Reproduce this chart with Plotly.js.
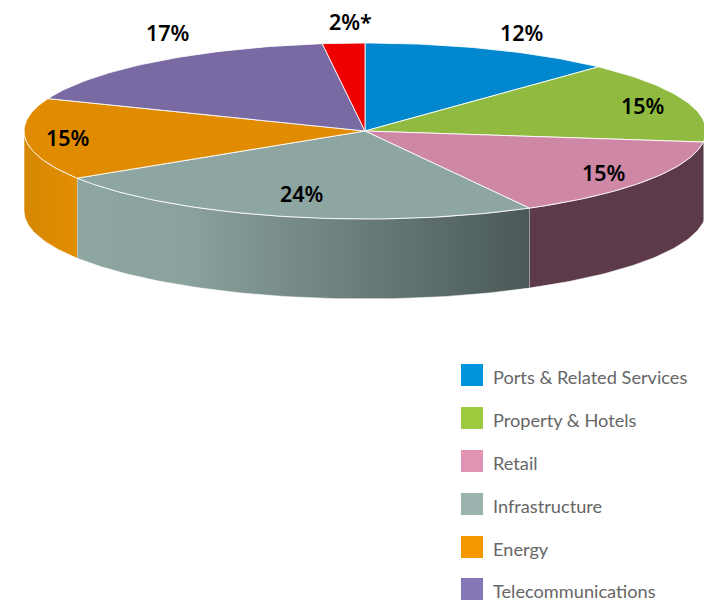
<!DOCTYPE html>
<html><head><meta charset="utf-8">
<script src="https://cdn.plot.ly/plotly-3.0.1.min.js"></script>
<style>html,body{margin:0;padding:0;background:#fff}#c{width:704px;height:601px}</style>
</head><body><div id="c"></div>
<script>
// Data, clockwise from 12 o'clock
const sliceNames = ['Ports & Related Services','Property & Hotels','Retail','Infrastructure','Energy','Telecommunications','Other'];
const sliceShares = [12,15,15,24,15,17,2];
const sliceLabels = ['12%','15%','15%','24%','15%','17%','2%*'];
const topColors = ['#0087cd','#91bb40','#cf87a6','#8ea6a1','#e08b00','#7a6aa4','#ee0000'];
const legendColors = ['#0094dc','#9ccb3f','#e093b2','#9cb2ae','#f59800','#8577b7'];
const legendNames = sliceNames.slice(0,6);

// Projection of the tilted disc
const CX=365, CY=131, RX=341, RY=88, DEPTH=80;
const pt=(deg,drop=0)=>{const a=deg*Math.PI/180;return [CX+RX*Math.sin(a),CY-RY*Math.cos(a)+drop];};
function arc(a0,a1,drop=0){const n=Math.max(2,Math.ceil(Math.abs(a1-a0)));const o=[];for(let i=0;i<=n;i++)o.push(pt(a0+(a1-a0)*i/n,drop));return o;}

const total=sliceShares.reduce((s,v)=>s+v,0);
let acc=0;
const ranges=sliceShares.map(v=>{const a=acc/total*360;acc+=v;return [a,acc/total*360];});

const sideStyles={
  1:{fillcolor:'#55603a'},
  2:{fillcolor:'#5c3a49'},
  3:{fillgradient:{type:'horizontal',start:76,stop:529,colorscale:[[0,'#8ea6a1'],[0.25,'#8aa19d'],[0.6,'#6c7f7c'],[1,'#4a5957']]}},
  4:{fillgradient:{type:'horizontal',start:24,stop:76,colorscale:[[0,'#d68803'],[1,'#e18d00']]}}
};
const traces=[];
ranges.forEach((r,i)=>{
  const a0=Math.max(r[0],90), a1=Math.min(r[1],270);
  if(a1<=a0) return;
  const pts=arc(a0,a1).concat(arc(a1,a0,DEPTH));
  traces.push(Object.assign({type:'scatter',mode:'lines',fill:'toself',x:pts.map(p=>p[0]),y:pts.map(p=>p[1]),
    line:{color:'rgba(255,255,255,0.6)',width:1},hoverinfo:'skip'},sideStyles[i]));
});
ranges.forEach((r,i)=>{
  const pts=[[CX,CY]].concat(arc(r[0],r[1]));pts.push([CX,CY]);
  traces.push({type:'scatter',mode:'lines',fill:'toself',x:pts.map(p=>p[0]),y:pts.map(p=>p[1]),
    fillcolor:topColors[i],line:{color:'rgba(255,255,255,0.85)',width:1},name:sliceNames[i],text:sliceLabels[i],hoverinfo:'name+text'});
});
// legend
const legendY=[375,418,461,504,547,589];
traces.push({type:'scatter',mode:'markers',x:legendNames.map(()=>472),y:legendY,
  marker:{symbol:'square',size:22,color:legendColors,line:{width:0}},hoverinfo:'skip'});

const labelXY=[[522,32.5],[643,105.5],[604,172.5],[302,193.5],[68,137.5],[168,32.5],[350.5,21.5]];
const annotations=sliceLabels.map((t,i)=>({x:labelXY[i][0],y:labelXY[i][1],xref:'x',yref:'y',text:t,showarrow:false,
  font:{family:'"Noto Sans",sans-serif',size:21.5,color:'#000',weight:600},xanchor:'center',yanchor:'middle'}));
legendNames.forEach((t,i)=>annotations.push({x:493,y:legendY[i]+2,xref:'x',yref:'y',text:t,showarrow:false,
  font:{family:'Lato,sans-serif',size:18.2,color:'#666666'},xanchor:'left',yanchor:'middle',xshift:-2}));

Plotly.newPlot('c',traces,{
  width:704,height:601,margin:{l:0,r:0,t:0,b:0},showlegend:false,
  paper_bgcolor:'#fff',plot_bgcolor:'#fff',
  xaxis:{range:[0,704],visible:false,fixedrange:true},
  yaxis:{range:[601,0],visible:false,fixedrange:true},
  annotations
},{displayModeBar:false,staticPlot:true});
</script></body></html>
